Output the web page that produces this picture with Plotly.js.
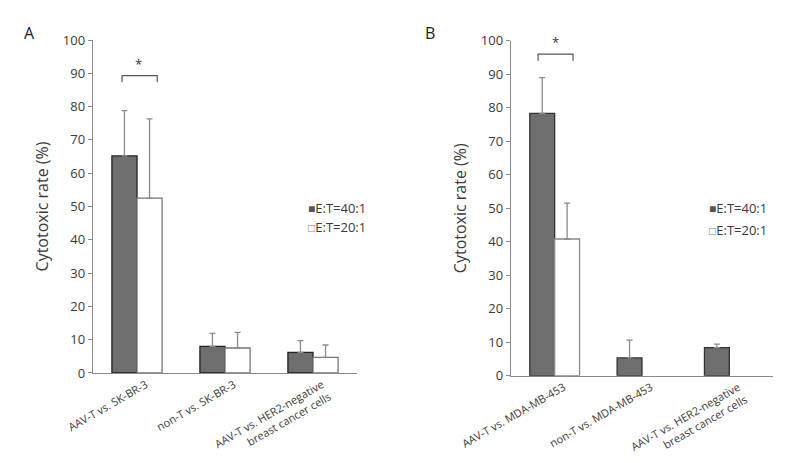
<!DOCTYPE html>
<html><head><meta charset="utf-8">
<script src="https://cdn.plot.ly/plotly-3.0.1.min.js"></script>
<style>html,body{margin:0;padding:0;background:#fff}#c{width:800px;height:463px}</style>
</head><body><div id="c"></div>
<script>
const catsA = ["AAV-T vs. SK-BR-3", "non-T vs. SK-BR-3", "AAV-T vs. HER2-negative<br>breast cancer cells"];
const catsB = ["AAV-T vs. MDA-MB-453", "non-T vs. MDA-MB-453", "AAV-T vs. HER2-negative<br>breast cancer cells"];
const seriesNames = ["E:T=40:1", "E:T=20:1"];
const legendGlyphs = ["■", "□"];
const a40 = [65.2, 8.0, 6.2];
const a40err = [13.6, 3.9, 3.5];
const a20 = [52.5, 7.5, 4.7];
const a20err = [23.8, 4.7, 3.7];
const b40 = [78.3, 5.3, 8.4];
const b40err = [10.7, 5.3, 1.0];
const b20 = [40.8, null, null];
const b20err = [10.7, null, null];
const sigA = "*", sigB = "*";

const darkFill = "#6e6e6e", errCol = "#8a8a8a", txt = "#3a3a3a";
function bar(x, y, err, name, fill, line, xa, ya) {
  return {type: "bar", x: x, y: y, name: name, xaxis: xa, yaxis: ya, showlegend: false,
    marker: {color: fill, line: {color: line, width: 1.3}},
    error_y: {type: "data", array: err, arrayminus: err.map(() => 0), symmetric: false, visible: true, color: errCol, thickness: 1.3, width: 3}};
}
const data = [
  bar(catsA, a40, a40err, seriesNames[0], darkFill, "#222", "x", "y"),
  bar(catsA, a20, a20err, seriesNames[1], "#fff", "#777", "x", "y"),
  bar(catsB, b40, b40err, seriesNames[0], darkFill, "#333", "x2", "y2"),
  bar(catsB, b20, b20err, seriesNames[1], "#fff", "#888", "x2", "y2")
];
const font = {family: "Open Sans, Noto Sans, sans-serif", color: txt};
const yax = (dom) => ({domain: dom, range: [0, 100], dtick: 10, showline: true, linecolor: "#8a8a8a", linewidth: 1.3,
  ticks: "outside", ticklen: 4, tickcolor: "#8a8a8a", showgrid: false, zeroline: false,
  tickfont: {size: 13, color: txt}, title: {text: "Cytotoxic rate (%)", font: {size: 16, color: txt}, standoff: 10}});
const xax = (dom, anchor) => ({domain: dom, anchor: anchor, showline: true, linecolor: "#8a8a8a", linewidth: 1.3, ticks: "",
  tickangle: -30, ticklabelshift: 9, tickfont: {size: 11, color: txt}, showgrid: false, range: [-0.5, 2.5]});
function bracket(xa, ya, yTop, x0, x1) {
  return {type: "path", xref: xa, yref: ya, path: `M ${x0} ${yTop - 2} L ${x0} ${yTop} L ${x1} ${yTop} L ${x1} ${yTop - 2}`,
    line: {color: "#555", width: 1.2}};
}
const topA = Math.max(a40[0] + a40err[0], a20[0] + a20err[0]) + 10.5;
const topB = Math.max(b40[0] + b40err[0], b20[0] + b20err[0]) + 7;
function legendAnn(xpx, ypx, i) {
  return {text: `<span style="color:${i === 0 ? '#555' : '#888'};font-size:12px">${legendGlyphs[i]}</span>${seriesNames[i]}`,
    xref: "paper", yref: "paper", x: xpx / 800, y: 1 - ypx / 463, xanchor: "left", yanchor: "middle", showarrow: false,
    font: {size: 13, color: txt}};
}
const layout = {
  width: 800, height: 463, margin: {l: 0, r: 0, t: 0, b: 0}, paper_bgcolor: "#fff", plot_bgcolor: "#fff", font: font,
  barmode: "group", bargap: 0.43, bargroupgap: 0, showlegend: false,
  xaxis: xax([0.11625, 0.44625], "y"),
  yaxis: yax([0.1944, 0.9136]),
  xaxis2: xax([0.63875, 0.96625], "y2"),
  yaxis2: Object.assign(yax([0.1886, 0.9121]), {anchor: "x2"}),
  shapes: [bracket("x", "y", topA, -0.17, 0.23), bracket("x2", "y2", topB, -0.19, 0.21)],
  annotations: [
    {text: "A", xref: "paper", yref: "paper", x: 22 / 800, y: 1 - 20 / 463, showarrow: false, font: {size: 16, color: "#222"}},
    {text: "B", xref: "paper", yref: "paper", x: 430 / 800, y: 1 - 20 / 463, showarrow: false, font: {size: 16, color: "#222"}},
    {text: sigA, xref: "x", yref: "y", x: 0.02, y: topA + 3.5, showarrow: false, font: {size: 13, color: "#333"}},
    {text: sigB, xref: "x2", yref: "y2", x: 0.01, y: topB + 3.5, showarrow: false, font: {size: 13, color: "#333"}},
    legendAnn(306, 208, 0), legendAnn(306, 227, 1),
    legendAnn(707, 208, 0), legendAnn(707, 230, 1)
  ]
};
Plotly.newPlot("c", data, layout, {staticPlot: true});
</script></body></html>
